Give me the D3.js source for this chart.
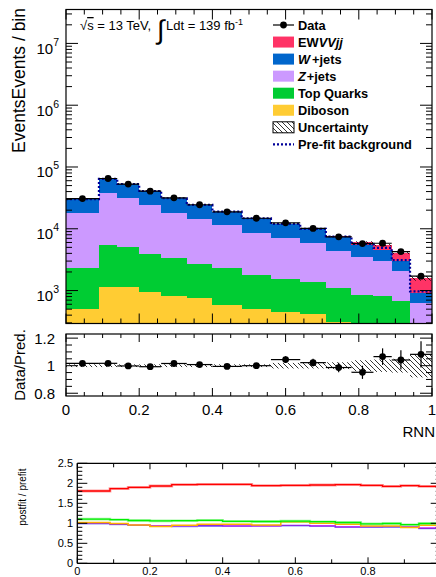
<!DOCTYPE html>
<html><head><meta charset="utf-8">
<script src="https://cdn.jsdelivr.net/npm/d3@7"></script>
<style>
body{margin:0;background:#fff;}
svg{display:block;}
text{font-family:"Liberation Sans",Arial,Helvetica,sans-serif;fill:#000;}
</style>
</head><body>
<svg id="c" width="436" height="577"></svg>
<script>
// ---------------- data ----------------
const binEdges = [0,0.09,0.14,0.2,0.26,0.33,0.4,0.48,0.56,0.64,0.71,0.78,0.84,0.89,0.94,1];
const diboson   = [504,1157,1130,940,818,759,585,504,456,418,313,250,230,200,70];
const topQuarks = [1796,4253,4000,3010,2512,1931,1735,1286,1084,972,797,599,589,479,190];
const zJets     = [15900,32490,26770,20350,14870,11610,9080,6860,5460,4570,3270,2691,2191,1401,362];
const wJets     = [12060,26020,21120,16520,12920,9910,7400,6030,4830,3810,2920,1930,1530,930,282];
const ewVVjj    = [40,80,80,80,80,90,100,120,140,160,200,580,930,1090,676];
const dataObs   = [30800,65100,53000,40600,31700,24500,18800,14800,12500,10150,7400,5760,5830,4270,1710];
const ratioErr  = [0.006,0.005,0.005,0.006,0.007,0.008,0.009,0.01,0.025,0.028,0.034,0.048,0.06,0.07,0.095];
const relUnc    = [0.01,0.01,0.01,0.01,0.01,0.01,0.01,0.01,0.02,0.02,0.025,0.04,0.045,0.05,0.085];
const prefitBkg = [30300,64000,53100,40900,31200,24300,18900,14800,11970,9930,7500,5700,4900,3100,970];

const postPreEW    = [1.808,1.867,1.9,1.933,1.967,1.975,1.975,1.942,1.95,1.958,1.967,1.95,1.925,1.942,1.925];
const postPreTop   = [1.105,1.09,1.07,1.06,1.065,1.075,1.05,1.045,1.055,1.04,1.02,0.985,0.995,0.965,0.995];
const postPreDib   = [1.017,0.992,0.958,0.917,0.95,0.975,0.975,0.958,1.033,1.0,0.975,0.933,0.933,0.892,0.95];
const postPreZ     = [1.0,0.975,0.95,0.933,0.933,0.942,0.933,0.942,0.95,0.933,0.908,0.908,0.917,0.908,0.875];
const postPreW     = [0.99,0.97,0.95,0.925,0.92,0.93,0.925,0.93,0.94,0.925,0.9,0.9,0.905,0.9,0.87];
const postPreOther = [1.0,0.98,0.96,0.94,0.94,0.945,0.935,0.935,0.945,0.94,0.915,0.92,0.92,0.91,0.885];

const mainYTicks  = [3,4,5,6,7];
const ratioYTicks = [0.8,1,1.2];
const xTickLabels = [0,0.2,0.4,0.6,0.8,1];
const botYTicks   = [0,0.5,1,1.5,2,2.5];
const botXTicks   = [0,0.2,0.4,0.6,0.8];

// ---------------- setup ----------------
const svg = d3.select("#c");
const nb = binEdges.length - 1;
const keys = ["diboson","top","z","w","ew"];
const colors = {diboson:"#ffcc33", top:"#00cc33", z:"#cc99ff", w:"#0066cc", ew:"#ff3366"};
const rows = d3.range(nb).map(i => ({i, diboson:diboson[i], top:topQuarks[i], z:zJets[i], w:wJets[i], ew:ewVVjj[i]}));
const stacked = d3.stack().keys(keys)(rows);
const total = rows.map(r => keys.reduce((s,k)=>s+r[k],0));

const defs = svg.append("defs");
const pat = defs.append("pattern").attr("id","hatch").attr("patternUnits","userSpaceOnUse")
  .attr("width",5).attr("height",5);
pat.append("path").attr("d","M-1,-1L6,6M-1,4L1,6M4,-1L6,1").attr("stroke","#000").attr("stroke-width",0.8);

// main panel
const M = {l:66, r:432, t:9.5, b:323.5};
const x = d3.scaleLinear().domain([0,1]).range([M.l, M.r]);
const y = d3.scaleLog().domain([293, 3.54e7]).range([M.b, M.t]);
defs.append("clipPath").attr("id","clipMain").append("rect")
  .attr("x",M.l).attr("y",M.t).attr("width",M.r-M.l).attr("height",M.b-M.t);

const gm = svg.append("g").attr("clip-path","url(#clipMain)");
stacked.forEach(layer => {
  gm.append("g").selectAll("rect").data(layer).join("rect")
    .attr("x",(d,i)=>x(binEdges[i]))
    .attr("width",(d,i)=>x(binEdges[i+1])-x(binEdges[i]))
    .attr("y",d=>y(Math.max(d[1],1)))
    .attr("height",d=>Math.max(0, y(Math.max(d[0],1)) - y(Math.max(d[1],1))))
    .attr("fill",colors[layer.key]).attr("shape-rendering","crispEdges");
});
// uncertainty band
gm.append("g").selectAll("rect").data(total).join("rect")
  .attr("x",(d,i)=>x(binEdges[i]))
  .attr("width",(d,i)=>x(binEdges[i+1])-x(binEdges[i]))
  .attr("y",(d,i)=>y(d*(1+relUnc[i])))
  .attr("height",(d,i)=>y(d*(1-relUnc[i]))-y(d*(1+relUnc[i])))
  .attr("fill","url(#hatch)");
// prefit step line
const prePts = prefitBkg.map((v,i)=>[binEdges[i],v]).concat([[binEdges[nb],prefitBkg[nb-1]]]);
gm.append("path").attr("d", d3.line().x(d=>x(d[0])).y(d=>y(d[1])).curve(d3.curveStepAfter)(prePts))
  .attr("fill","none").attr("stroke","#000099").attr("stroke-width",2.2).attr("stroke-dasharray","2,2");
// data
const centers = d3.range(nb).map(i => (binEdges[i]+binEdges[i+1])/2);
const gd = gm.append("g");
d3.range(nb).forEach(i => {
  gd.append("line").attr("x1",x(binEdges[i])).attr("x2",x(binEdges[i+1]))
    .attr("y1",y(dataObs[i])).attr("y2",y(dataObs[i])).attr("stroke","#000").attr("stroke-width",1.2);
  gd.append("circle").attr("cx",x(centers[i])).attr("cy",y(dataObs[i])).attr("r",3.4).attr("fill","#000");
});
svg.append("rect").attr("x",M.l).attr("y",M.t).attr("width",M.r-M.l).attr("height",M.b-M.t)
  .attr("fill","none").attr("stroke","#000").attr("stroke-width",1.2);

function tick(g,x1,y1,x2,y2,w){ g.append("line").attr("x1",x1).attr("y1",y1).attr("x2",x2).attr("y2",y2).attr("stroke","#000").attr("stroke-width",w||1); }
const ga = svg.append("g");
// x ticks main
d3.range(0,21).forEach(k=>{
  const t=k*0.05, px=x(t), major = k%4===0, len = major?10:5;
  tick(ga,px,M.b,px,M.b-len); tick(ga,px,M.t,px,M.t+len);
});
// y ticks main (log)
for (let e=2;e<=7;e++){
  for (let m=1;m<=9;m++){
    const v=m*Math.pow(10,e);
    if (v<y.domain()[0]||v>y.domain()[1]) continue;
    const py=y(v), len = m===1?12:6;
    tick(ga,M.l,py,M.l+len,py); tick(ga,M.r,py,M.r-len,py);
  }
}
mainYTicks.forEach(e=>{
  const py=y(Math.pow(10,e));
  const t=ga.append("text").attr("x",59).attr("y",py+10.5).attr("text-anchor","end").attr("font-size",15);
  t.append("tspan").text("10");
  t.append("tspan").attr("dy",-8).attr("font-size",10.5).text(e);
});
svg.append("text").attr("transform","translate(25,8) rotate(-90)").attr("text-anchor","end")
  .attr("font-size",17.5).text("EventsEvents / bin");

// annotation
const ann = svg.append("g");
const a1 = ann.append("text").attr("x",80).attr("y",30).attr("font-size",13);
a1.append("tspan").text("√");
a1.append("tspan").attr("style","text-decoration:overline").text("s");
a1.append("tspan").text(" = 13 TeV,");
ann.append("text").attr("x",157).attr("y",39).attr("font-size",27).text("∫");
const a2 = ann.append("text").attr("x",166).attr("y",30).attr("font-size",13);
a2.append("tspan").text("Ldt = 139 fb");
a2.append("tspan").attr("dy",-5).attr("font-size",9).text("-1");

// legend
const L = {x0:273, w:21, h:11, tx:298, y0:25, dy:17.05};
const lg = svg.append("g");
const legItems = [
  {type:"data"}, {type:"box",c:colors.ew}, {type:"box",c:colors.w}, {type:"box",c:colors.z},
  {type:"box",c:colors.top}, {type:"box",c:colors.diboson}, {type:"hatch"}, {type:"dash"}
];
legItems.forEach((it,i)=>{
  const cy = L.y0 + i*L.dy;
  if (it.type==="data"){
    tick(lg,L.x0,cy,L.x0+L.w,cy,1.2);
    lg.append("circle").attr("cx",L.x0+L.w/2).attr("cy",cy).attr("r",3.4).attr("fill","#000");
  } else if (it.type==="box"){
    lg.append("rect").attr("x",L.x0).attr("y",cy-L.h/2).attr("width",L.w).attr("height",L.h).attr("fill",it.c);
  } else if (it.type==="hatch"){
    lg.append("rect").attr("x",L.x0).attr("y",cy-L.h/2).attr("width",L.w).attr("height",L.h)
      .attr("fill","url(#hatch)").attr("stroke","#000").attr("stroke-width",1);
  } else {
    lg.append("line").attr("x1",L.x0).attr("x2",L.x0+L.w).attr("y1",cy).attr("y2",cy)
      .attr("stroke","#000099").attr("stroke-width",2.2).attr("stroke-dasharray","2,2");
  }
  const t = lg.append("text").attr("x",L.tx).attr("y",cy+4.6).attr("font-size",12.8).attr("font-weight","bold");
  if (i===0) t.text("Data");
  if (i===1){ t.append("tspan").text("EW"); t.append("tspan").attr("font-style","italic").text("VVjj"); }
  if (i===2){ t.append("tspan").attr("font-style","italic").text("W"); t.append("tspan").attr("dx",2).text("+jets"); }
  if (i===3){ t.append("tspan").attr("font-style","italic").text("Z"); t.append("tspan").attr("dx",1).text("+jets"); }
  if (i===4) t.text("Top Quarks");
  if (i===5) t.text("Diboson");
  if (i===6) t.text("Uncertainty");
  if (i===7) t.text("Pre-fit background");
});

// ---------------- ratio panel ----------------
const R = {l:66, r:432, t:334, b:396};
const yr = d3.scaleLinear().domain([0.78,1.23]).range([R.b,R.t]);
defs.append("clipPath").attr("id","clipR").append("rect")
  .attr("x",R.l).attr("y",R.t).attr("width",R.r-R.l).attr("height",R.b-R.t);
const gr = svg.append("g").attr("clip-path","url(#clipR)");
gr.append("g").selectAll("rect").data(relUnc).join("rect")
  .attr("x",(d,i)=>x(binEdges[i])).attr("width",(d,i)=>x(binEdges[i+1])-x(binEdges[i]))
  .attr("y",d=>yr(1+d)).attr("height",d=>yr(1-d)-yr(1+d)).attr("fill","url(#hatch)");
d3.range(nb).forEach(i=>{
  const r = dataObs[i]/total[i];
  tick(gr,x(binEdges[i]),yr(r),x(binEdges[i+1]),yr(r),1.2);
  tick(gr,x(centers[i]),yr(r-ratioErr[i]),x(centers[i]),yr(r+ratioErr[i]),1.2);
  gr.append("circle").attr("cx",x(centers[i])).attr("cy",yr(r)).attr("r",3.4).attr("fill","#000");
});
svg.append("rect").attr("x",R.l).attr("y",R.t).attr("width",R.r-R.l).attr("height",R.b-R.t)
  .attr("fill","none").attr("stroke","#000").attr("stroke-width",1.2);
d3.range(0,21).forEach(k=>{
  const px=x(k*0.05), major=k%4===0, len=major?8:4;
  tick(ga,px,R.b,px,R.b-len); tick(ga,px,R.t,px,R.t+len);
});
d3.range(16,25).forEach(k=>{
  const v=k*0.05, py=yr(v), major = (k%4===0), len = major?12:6;
  tick(ga,R.l,py,R.l+len,py); tick(ga,R.r,py,R.r-len,py);
});
ratioYTicks.forEach(v=>{
  ga.append("text").attr("x",55).attr("y",yr(v)+5.5).attr("text-anchor","end").attr("font-size",15).text(v===1?"1":v.toFixed(1));
});
xTickLabels.forEach(v=>{
  ga.append("text").attr("x",x(v)).attr("y",415).attr("text-anchor","middle").attr("font-size",15).text(v===0?"0":v===1?"1":v.toFixed(1));
});
svg.append("text").attr("transform","translate(25,365) rotate(-90)").attr("text-anchor","middle")
  .attr("font-size",15).text("Data/Pred.");
svg.append("text").attr("x",435).attr("y",437).attr("text-anchor","end").attr("font-size",15).text("RNN");

// ---------------- bottom panel ----------------
const B = {l:77.3, r:440.7, t:463.3, b:563.3};
const xb = d3.scaleLinear().domain([0,1]).range([B.l,B.r]);
const yb = d3.scaleLinear().domain([0,2.5]).range([B.b,B.t]);
defs.append("clipPath").attr("id","clipB").append("rect")
  .attr("x",B.l).attr("y",B.t).attr("width",B.r-B.l).attr("height",B.b-B.t);
const gb = svg.append("g").attr("clip-path","url(#clipB)");
const stepLine = arr => d3.line().x(d=>xb(d[0])).y(d=>yb(d[1])).curve(d3.curveStepAfter)(
  arr.map((v,i)=>[binEdges[i],v]).concat([[binEdges[nb],arr[nb-1]]]));
const series = [
  {a:postPreW, c:"#6f6fff", w:1.6, o:0.8},
  {a:postPreOther, c:"#ff33ff", w:1.2, o:0.9},
  {a:postPreZ, c:"#8a2be2", w:1.2, o:1},
  {a:postPreDib, c:"#ffb000", w:1.5, o:1},
  {a:postPreTop, c:"#55ee55", w:2.6, o:0.55},
  {a:postPreTop, c:"#00ee00", w:1.3, o:1},
  {a:postPreEW, c:"#ff6666", w:2.8, o:0.6},
  {a:postPreEW, c:"#ff0000", w:1.3, o:1}
];
series.forEach(s=>{
  gb.append("path").attr("d",stepLine(s.a)).attr("fill","none").attr("stroke",s.c)
    .attr("stroke-width",s.w).attr("stroke-opacity",s.o);
});
const gbx = svg.append("g");
tick(gbx,B.l,B.t,B.l,B.b,1.3); tick(gbx,B.l,B.b,B.r,B.b,1.3); tick(gbx,B.l,B.t,B.r,B.t,1.3); tick(gbx,B.r,B.t,B.r,B.b,1.3);
d3.range(0,26).forEach(k=>{
  const py=yb(k*0.1), major=k%5===0, len=major?10:5;
  tick(gbx,B.l,py,B.l+len,py); tick(gbx,B.r,py,B.r-len,py);
});
d3.range(0,11).forEach(k=>{
  const px=xb(k*0.1), major=k%2===0, len=major?6:4;
  tick(gbx,px,B.b,px,B.b-len); tick(gbx,px,B.t,px,B.t+len);
});
botYTicks.forEach(v=>{
  gbx.append("text").attr("x",73).attr("y",yb(v)+4).attr("text-anchor","end").attr("font-size",11)
    .text(v===0?"0":(Number.isInteger(v)?String(v):v.toFixed(1)));
});
botXTicks.forEach(v=>{
  gbx.append("text").attr("x",xb(v)).attr("y",575).attr("text-anchor","middle").attr("font-size",11)
    .text(v===0?"0":v.toFixed(1));
});
svg.append("text").attr("transform","translate(26,497) rotate(-90)").attr("text-anchor","middle")
  .attr("font-size",10).text("postfit / prefit");
</script>
</body></html>
